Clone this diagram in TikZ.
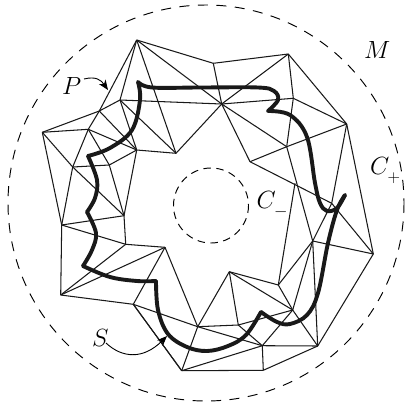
\documentclass[tikz,border=0pt]{standalone}
\usetikzlibrary{arrows.meta}
\DeclareMathSizes{27}{27}{16}{12}
\tikzset{
  mesh/.style={line width=1.05pt,line join=round,black!90},
  curveS/.style={line width=3.9pt,line cap=round,smooth,tension=0.6,black!90},
  circ/.style={line width=0.95pt,dash pattern=on 10pt off 8.5pt},
  circin/.style={line width=0.95pt,dash pattern=on 7.5pt off 5.5pt},
  lab/.style={inner sep=0pt,anchor=base west,font=\fontsize{27}{32}\selectfont},
  pointer/.style={line width=0.9pt,-{Stealth[length=10pt,width=8pt,inset=3pt]}},
}
\newcommand{\dropsub}[1]{_{\lower4.5pt\hbox{$\scriptstyle #1$}}}
\begin{document}
\begin{tikzpicture}[x=1pt,y=-1pt]
\useasboundingbox (0,0) rectangle (406,407);
\foreach \n/\x/\y in {A/136.7/40,U/213.3/63.3,V/288.3/54,Y/346.7/124,E/373.3/254,L/317.7/346,M/263.3/370.3,T/181.7/370.7,Q/133.3/304.3,O/60.7/295,J/61.7/225,D/42.3/132.3,C/99.3/111,B/120/100,F/88.3/129.3,G/136.7/150,H/176/153.3,I/109.3/165,K/72.7/167,N/124/215.7,R/125.7/244.3,S/165/247.3,W/221.7/104,X/293.3/98.3,Z/286.7/146.7,a/250/161.7,b/295/183.3,c/331.7/203.3,d/312.7/241,f/278.3/285,g/229.3/271.7,h/292.7/310,i/238.3/325,j/197.7/326.7,k/262.3/345.7}
  \coordinate (v\n) at (\x,\y);
\foreach \p/\q in {A/U,U/V,V/Y,Y/E,E/L,L/M,M/T,T/Q,Q/O,O/J,J/D,D/C,C/A,
  D/F,D/K,K/J,K/F,K/I,K/N,F/C,F/G,F/I,C/G,C/B,I/G,I/N,G/N,B/A,B/G,B/H,B/W,
  A/H,A/W,U/W,V/W,V/X,X/Y,X/W,G/H,H/W,W/Z,W/a,X/Z,Z/Y,Z/a,a/c,Z/d,b/f,Y/c,c/d,c/E,d/E,
  d/f,d/h,d/L,f/g,f/h,g/h,g/j,g/i,i/j,i/k,i/h,j/k,h/k,h/L,k/L,k/M,k/T,j/T,Q/T,Q/j,Q/S,S/j,S/R,S/O,R/O,R/J,R/N,J/N}
  \draw[mesh] (v\p) -- (v\q);
\draw[circ] (206,203) circle[radius=198];
\draw[circin] (211,205.5) circle[radius=37.5];
% the closed curve S, arc by arc between its cusps
\draw[curveS] plot coordinates {(345,195) (337,208) (327,211) (320,203) (315,183) (307,137) (290,115) (268,111)};
\draw[curveS] plot coordinates {(268,111) (278,100) (274,91) (258,87.5) (200,87.5) (152,87.5) (138,82)};
\draw[curveS] plot coordinates {(138,82) (140,100) (132,130) (110,148) (88,156)};
\draw[curveS] plot coordinates {(88,156) (97,180) (95,198) (87,212)};
\draw[curveS] plot coordinates {(87,212) (96,233) (92,250) (83,266)};
\draw[curveS] plot coordinates {(83,266) (110,277) (137,281) (156,281)};
\draw[curveS] plot coordinates {(156,281) (158,310) (168,334) (187,347) (207,351) (228,346) (246,335) (261,312)};
\draw[curveS] plot coordinates {(261,312) (277,322) (290,324) (307,315) (318,293) (328,243) (337,210) (345,195)};
\node[lab] (labP) at (62,94) {$P$};
\node[lab] (labM) at (364,58) {$M$};
\node[lab] (labCp) at (370,174) {$C\dropsub{+}$};
\node[lab] (labCm) at (256.5,208) {$C\dropsub{-}$};
\node[lab] (labS) at (92,346) {$S$};
\coordinate (tailP) at (84,79);
\coordinate (tipP) at (108,90);
\coordinate (tailS) at (106,343);
\coordinate (tipS) at (167,336);
\draw[pointer] (tailP) .. controls (96,76) and (101,80) .. (tipP);
\draw[pointer] (tailS) .. controls (122,358) and (143,360) .. (tipS);
\end{tikzpicture}
\end{document}
